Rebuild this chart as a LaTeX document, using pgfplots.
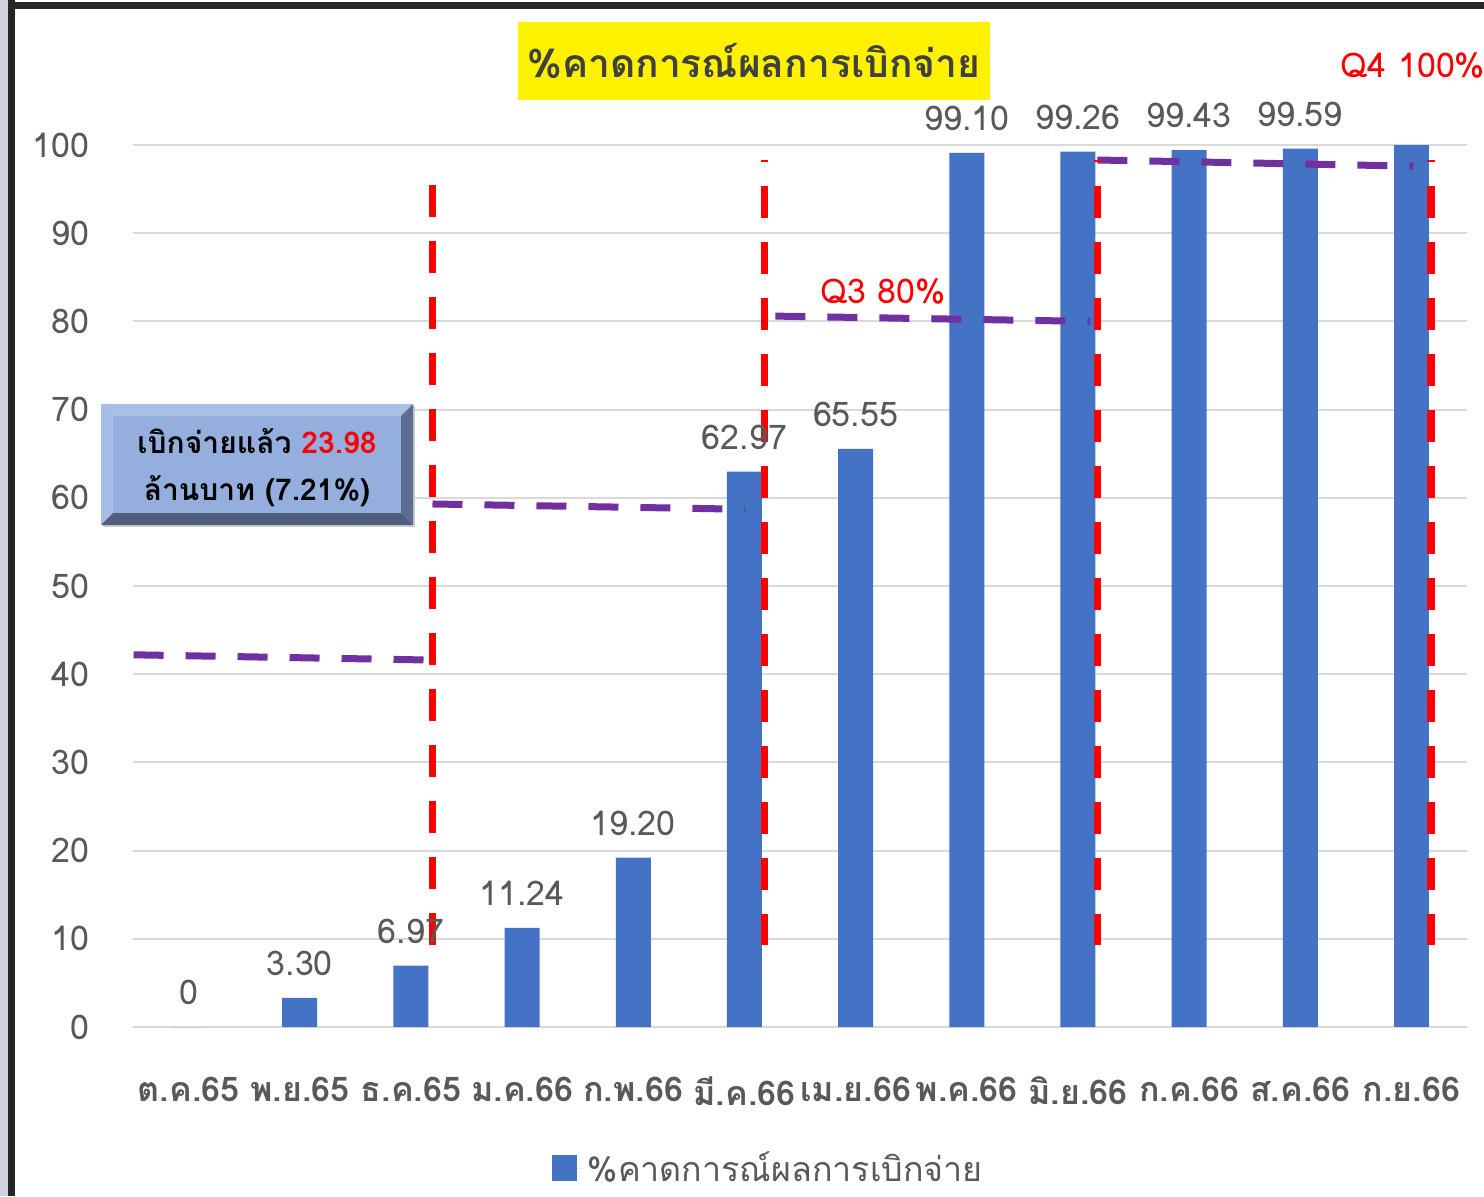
\documentclass[border=0pt]{standalone}
\usepackage{fontspec}
\setmainfont{Loma}[Script=Thai]
\usepackage{pgfplots}
\pgfplotsset{compat=1.18}
\definecolor{barblue}{HTML}{4472C4}
\definecolor{txtgray}{HTML}{595959}
\definecolor{gridgray}{HTML}{D9D9D9}
\definecolor{qpurple}{HTML}{7030A0}
\definecolor{titlegray}{HTML}{404040}
\definecolor{boxmid}{HTML}{94AEDE}
\definecolor{boxlight}{HTML}{A9BFE8}
\definecolor{boxdark}{HTML}{5C6D90}
\definecolor{boxdarker}{HTML}{4E5E7E}

\begin{document}
\begin{tikzpicture}
% page: 1 px of the reference = 0.5pt, axis lower left at (0,0)
\useasboundingbox (-66.5pt,-84.5pt) rectangle (675.5pt,513.5pt);
\fill[white] (-66.5pt,-84.5pt) rectangle (675.5pt,513.5pt);
\fill[black!85] (-62.5pt,-84.5pt) rectangle (-59pt,513.5pt);
\fill[black!85] (-62.5pt,509pt) rectangle (675.5pt,512.5pt);
\fill[blue!20!gray!30] (-66.5pt,-84.5pt) rectangle (-62.5pt,513.5pt);

\begin{axis}[
    scale only axis,
    width=667pt, height=441pt,
    at={(0pt,0pt)}, anchor=south west,
    clip=false,
    xmin=-0.5, xmax=11.5,
    ymin=0, ymax=100,
    ytick={0,10,...,100},
    xtick={0,...,11},
    xticklabels={ต.ค.65, พ.ย.65, ธ.ค.65, ม.ค.66, ก.พ.66, มี.ค.66, เม.ย.66, พ.ค.66, มิ.ย.66, ก.ค.66, ส.ค.66, ก.ย.66},
    axis line style={draw=none},
    major tick length=0pt,
    ymajorgrids,
    grid style={gridgray, line width=1pt},
    /pgf/number format/assume math mode=true,
    yticklabel style={font=\fontsize{17}{20}\selectfont, text=txtgray, xshift=-18.5pt},
    xticklabel style={font=\fontsize{17}{20}\selectfont\bfseries, text=txtgray, yshift=-21.5pt},
    ybar, bar width=17.5pt, bar shift=0pt,
    legend style={at={(0.477,-0.16)}, anchor=center, draw=none, fill=none,
        font=\fontsize{17}{20}\selectfont, text=txtgray},
    legend image code/.code={\fill[barblue] (0pt,-6.5pt) rectangle (12.5pt,6.5pt);
        \path (0pt,0pt) -- (16pt,0pt);},
]
% bars with value labels
\addplot[fill=barblue, draw=none,
    point meta=explicit symbolic,
    nodes near coords,
    every node near coord/.append style={font=\fontsize{17}{20}\selectfont, text=txtgray, yshift=7.5pt}]
    coordinates {(0,0) [0] (1,3.30) [3.30] (2,6.97) [6.97] (3,11.24) [11.24]
                 (4,19.20) [19.20] (5,62.97) [62.97] (6,65.55) [65.55]
                 (7,99.10) [99.10] (8,99.26) [99.26] (9,99.43) [99.43] (10,99.59) [99.59]};
\addlegendentry{\%คาดการณ์ผลการเบิกจ่าย}
\addplot[fill=barblue, draw=none, forget plot] coordinates {(11,100)};

% quarter targets (purple)
\addplot[sharp plot, qpurple, line width=3.5pt, dash pattern=on 15pt off 11pt, forget plot]
    coordinates {(-0.495,42.2) (2.194,41.6)};
\addplot[sharp plot, qpurple, line width=3.5pt, dash pattern=on 15pt off 11pt, forget plot]
    coordinates {(2.194,59.3) (5.009,58.7)};
\addplot[sharp plot, qpurple, line width=3.5pt, dash pattern=on 15pt off 11pt, forget plot]
    coordinates {(5.279,80.6) (8.11,80.0)};
\addplot[sharp plot, qpurple, line width=3.5pt, dash pattern=on 15pt off 11pt, forget plot]
    coordinates {(8.175,98.3) (11.016,97.6)};

% quarter boundaries (red)
\addplot[sharp plot, red, line width=3.8pt, dash pattern=on 16pt off 12pt, forget plot]
    coordinates {(2.194,95.5) (2.194,9.3)};
\addplot[sharp plot, red, line width=3.8pt, dash pattern=on 16pt off 12pt, dash phase=15pt, forget plot]
    coordinates {(5.18,98.3) (5.18,9.3)};
\addplot[sharp plot, red, line width=3.8pt, dash pattern=on 16pt off 12pt, dash phase=15pt, forget plot]
    coordinates {(8.175,98.3) (8.175,9.3)};
\addplot[sharp plot, red, line width=3.8pt, dash pattern=on 16pt off 12pt, dash phase=15pt, forget plot]
    coordinates {(11.178,98.3) (11.178,9.3)};
\end{axis}

% title
\node[fill=yellow, minimum width=236pt, minimum height=39pt, inner sep=0pt,
      font=\fontsize{19.5}{24}\selectfont\bfseries, text=titlegray] at (310.5pt,483pt) {\%คาดการณ์ผลการเบิกจ่าย};

% quarter notes
\node[text=red, font=\fontsize{17}{20}\selectfont] at (375pt,367.5pt) {Q3 80\%};
\node[text=red, font=\fontsize{17}{20}\selectfont, anchor=west, inner sep=0pt] at (603.5pt,480.5pt) {Q4 100\%};

% bevelled box
\fill[black!20] (-15pt,250pt) rectangle (141pt,310.5pt);
\fill[boxlight] (-16pt,311.5pt) -- (140pt,311.5pt) -- (134pt,305.5pt) -- (-10pt,305.5pt) -- cycle;
\fill[boxlight!90!boxmid] (-16pt,251pt) -- (-16pt,311.5pt) -- (-10pt,305.5pt) -- (-10pt,257pt) -- cycle;
\fill[boxdark] (140pt,251pt) -- (140pt,311.5pt) -- (134pt,305.5pt) -- (134pt,257pt) -- cycle;
\fill[boxdarker] (-16pt,251pt) -- (140pt,251pt) -- (134pt,257pt) -- (-10pt,257pt) -- cycle;
\fill[boxmid] (-10pt,257pt) rectangle (134pt,305.5pt);
\node[font=\fontsize{15}{18}\selectfont\bfseries] at (62pt,293pt) {เบิกจ่ายแล้ว \textcolor{red}{23.98}};
\node[font=\fontsize{15}{18}\selectfont\bfseries] at (62pt,268pt) {ล้านบาท (7.21\%)};
\end{tikzpicture}
\end{document}
